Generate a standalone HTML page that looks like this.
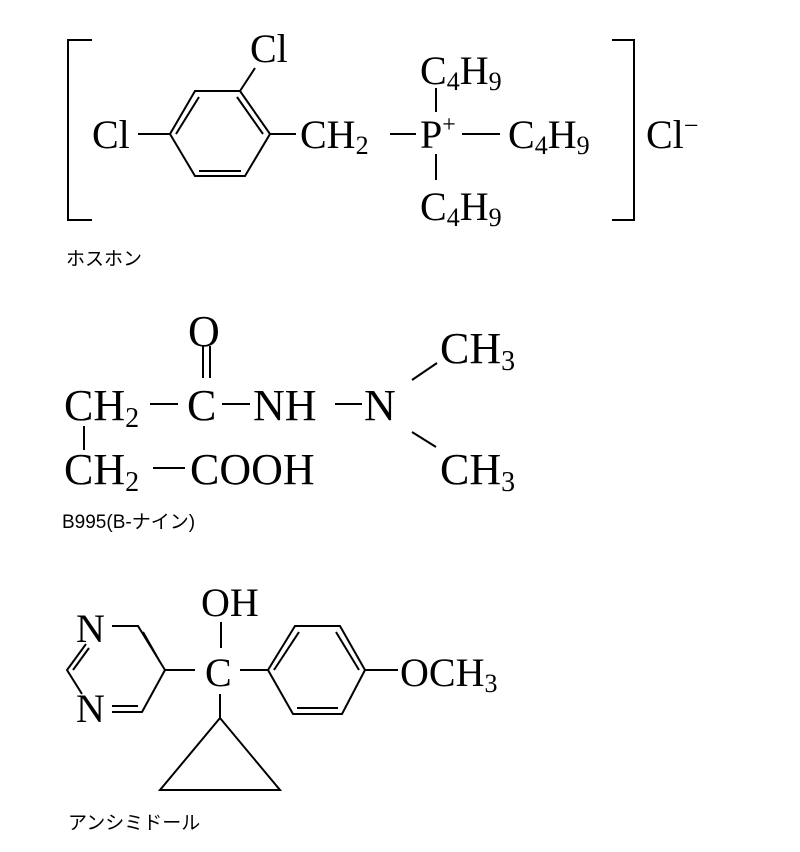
<!DOCTYPE html>
<html><head><meta charset="utf-8"><style>
body{margin:0;background:#fff}
svg{display:block}
text{font-family:"Liberation Serif",serif;fill:#000}
.j{font-family:"Liberation Sans","Noto Sans CJK JP",sans-serif;font-size:19px}
</style></head><body>
<svg width="800" height="852" viewBox="0 0 800 852" stroke="#000" stroke-width="2" fill="none">
<!-- top -->
<path d="M92,40 H68 V220 H92"/>
<path d="M612,40 H634 V220 H612"/>
<g font-size="40" stroke="none">
<text x="250" y="62">Cl</text>
<text x="92" y="148">Cl</text>
<text x="300" y="148">CH<tspan font-size="26" dy="6">2</tspan></text>
<text x="420" y="148">P<tspan font-size="24" dy="-16">+</tspan></text>
<text x="420" y="84">C<tspan font-size="26" dy="6">4</tspan><tspan dy="-6">H</tspan><tspan font-size="26" dy="6">9</tspan></text>
<text x="508" y="148">C<tspan font-size="26" dy="6">4</tspan><tspan dy="-6">H</tspan><tspan font-size="26" dy="6">9</tspan></text>
<text x="420" y="220">C<tspan font-size="26" dy="6">4</tspan><tspan dy="-6">H</tspan><tspan font-size="26" dy="6">9</tspan></text>
<text x="646" y="148">Cl<tspan font-size="26" dy="-14">−</tspan></text>
</g>
<path d="M195,91 L240,91 L270,134 L245,176 L195,176 L170,134 Z"/>
<path d="M199,97 L176,134 M237,97 L263,134 M199,171 L241,171"/>
<path d="M240,91 L255,68 M138,134 H170 M270,134 H296 M390,134 H416 M436,88 V112 M436,154 V180 M462,134 H500"/>
<text class="j" x="66" y="265" stroke="none">ホスホン</text>
<!-- middle -->
<g font-size="44" stroke="none">
<text x="188" y="346">O</text>
<text x="64" y="420">CH<tspan font-size="28" dy="7">2</tspan></text>
<text x="187" y="420">C</text>
<text x="253" y="420">NH</text>
<text x="364" y="420">N</text>
<text x="440" y="363">CH<tspan font-size="28" dy="7">3</tspan></text>
<text x="64" y="484">CH<tspan font-size="28" dy="7">2</tspan></text>
<text x="190" y="484">COOH</text>
<text x="440" y="484">CH<tspan font-size="28" dy="7">3</tspan></text>
</g>
<path d="M203,346 V378 M210,346 V378 M150,404 H178 M222,404 H250 M335,404 H362 M412,380 L437,363 M412,432 L436,447 M84,426 V450 M153,468 H185"/>
<text class="j" x="62" y="528" stroke="none">B995(B-ナイン)</text>
<!-- bottom -->
<g font-size="40" stroke="none">
<text x="201" y="616">OH</text>
<text x="205" y="686">C</text>
<text x="76" y="642">N</text>
<text x="76" y="722">N</text>
<text x="400" y="686">OCH<tspan font-size="26" dy="6">3</tspan></text>
</g>
<path d="M112,626 H138 L165,670 L142,712 H112 M143,632 L160,662 M112,706 H138 M86,644 L67,670 L82,694 M89,648 L73,670"/>
<path d="M165,670 H195 M240,670 H268 M221,622 V648 M220,694 V718 M365,670 H398"/>
<path d="M268,670 L295,626 H340 L365,670 L342,714 H293 Z M274,670 L299,632 M336,632 L359,670 M297,708 H338"/>
<path d="M220,718 L160,790 H280 Z"/>
<text class="j" x="68" y="829" stroke="none">アンシミドール</text>
</svg>
</body></html>
